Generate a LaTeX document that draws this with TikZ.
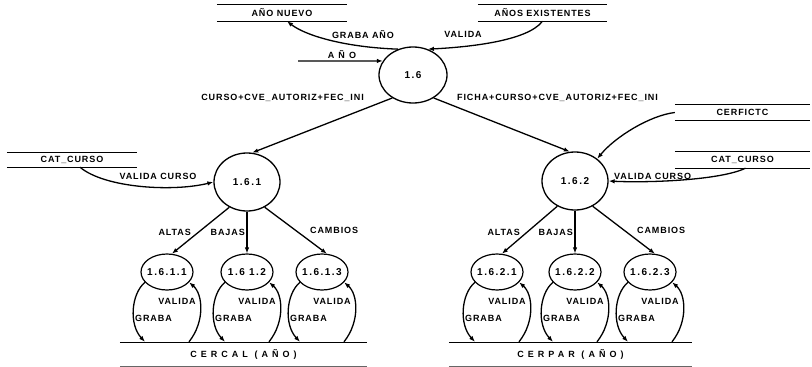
\documentclass[tikz,border=0pt]{standalone}
\usepackage{fontspec}
\setmainfont{Liberation Sans}
\newfontfamily\lblfont{Liberation Sans}[LetterSpace=10]
\newfontfamily\numfont{Liberation Sans}[LetterSpace=15]
\newfontfamily\widefont{Liberation Sans}[LetterSpace=45]
\usetikzlibrary{arrows.meta,calc,shapes.geometric}

\begin{document}
\begin{tikzpicture}[x=1pt,y=-1pt,
  lbl/.style={font=\lblfont\bfseries\fontsize{9}{10}\selectfont, inner sep=0pt},
  widelbl/.style={font=\widefont\bfseries\fontsize{9}{10}\selectfont, inner sep=0pt},
  numlbl/.style={font=\numfont\bfseries\fontsize{10}{11}\selectfont, inner sep=0pt},
  proc/.style={draw, ellipse, line width=1.3pt, inner sep=0pt,
    minimum width=66pt, minimum height=58pt},
  subproc/.style={draw, ellipse, line width=1.2pt, inner sep=0pt,
    minimum width=52pt, minimum height=36pt},
  store/.style={lbl, minimum height=15pt},
  bigstore/.style={widelbl, minimum height=23pt},
  storeline/.style={line width=1.2pt},
  flow/.style={line width=1.3pt, -{Latex[length=6pt,width=4.5pt]}},
]
\useasboundingbox (0,0) rectangle (812,367);

% processes
\node[proc, minimum width=68pt, minimum height=56pt] (p16) at (413,75) {};
\node[numlbl] (t16) at (p16.center) {1.6};
\node[proc] (p161) at (247,182) {};
\node[numlbl] (t161) at (p161.center) {1.6.1};
\node[proc] (p162) at (575,181) {};
\node[numlbl] (t162) at (p162.center) {1.6.2};

\foreach \n/\x/\t in {p1611/167/1.6.1.1, p1612/247/1.6 1.2, p1613/322/1.6.1.3,
                      p1621/497/1.6.2.1, p1622/575/1.6.2.2, p1623/650/1.6.2.3}
  \node[subproc, label={[numlbl,name=t\n]center:\t}] (\n) at (\x,272) {};

% data stores
\node[store, minimum width=130pt, minimum height=16pt] (nuevo) at (282,13) {AÑO NUEVO};
\node[store, minimum width=129pt, minimum height=16pt] (exist) at (542.5,13) {AÑOS EXISTENTES};
\node[store, minimum width=130pt, minimum height=14pt] (catL) at (72,160) {CAT\_CURSO};
\node[store, minimum width=135pt, minimum height=15pt] (cerf) at (742.5,112.5) {CERFICTC};
\node[store, minimum width=135pt, minimum height=16pt] (catR) at (742.5,160) {CAT\_CURSO};
\node[bigstore, minimum width=247pt] (cercal) at (243.5,354.5) {CERCAL (AÑO)};
\node[bigstore, minimum width=243pt] (cerpar) at (570.5,354.5) {CERPAR (AÑO)};

\foreach \s in {nuevo,exist,catL,cerf,catR}
  \draw[storeline] (\s.north west) -- (\s.north east)
                   (\s.south west) -- (\s.south east);
\foreach \s in {cercal,cerpar} {
  \draw[storeline] (\s.north west) -- (\s.north east);
  \draw[line width=0.7pt, black!60] (\s.south west) -- (\s.south east);
}

% flows around 1.6
\coordinate (ain) at (298,61);
\draw[flow] (p16.120) .. controls +(-55,-2) and +(18,14) .. ($(nuevo.south)+(5,0)$);
\draw[flow] (exist.south) .. controls +(-15,20) and +(40,-2) .. (p16.60);
\draw[flow] (ain) -- (p16.155);
\draw[flow] (p16.228) -- (p161.80);
\draw[flow] (p16.312) -- (p162.100);

\node[lbl] (lgraba) at (363,35) {GRABA AÑO};
\node[lbl] (lvalida) at (463,34) {VALIDA};
\node[widelbl] (lano) at (342,55) {AÑO};
\node[lbl, anchor=east] (lcurso) at (364,98) {CURSO+CVE\_AUTORIZ+FEC\_INI};
\node[lbl, anchor=west] (lficha) at (457,98) {FICHA+CURSO+CVE\_AUTORIZ+FEC\_INI};

% flows into 1.6.1 and 1.6.2
\draw[flow] ($(catL.south)+(8,0)$) .. controls +(25,21) and +(-40,10) .. (p161.180);
\draw[flow] (cerf.west) .. controls +(-25,3) and +(18,-22) .. (p162.45);
\draw[flow] ($(catR.south)+(3,0)$) .. controls +(-25,12) and +(40,2) .. (p162.east);
\node[lbl] (lvcL) at (158,176) {VALIDA CURSO};
\node[lbl, anchor=west] (lvcR) at (614,176) {VALIDA CURSO};

% second level
\draw[flow] (p161.235) -- (p1611.75);
\draw[flow] (p161.south) -- (p1612.north);
\draw[flow] (p161.305) -- (p1613.75);
\draw[flow] (p162.235) -- (p1621.75);
\draw[flow] (p162.south) -- (p1622.north);
\draw[flow] (p162.305) -- (p1623.75);

\node[lbl, anchor=east] (la1) at (191,232) {ALTAS};
\node[lbl, anchor=east] (lb1) at (245,232) {BAJAS};
\node[lbl, anchor=west] (lc1) at (310,230) {CAMBIOS};
\node[lbl, anchor=east] (la2) at (520,232) {ALTAS};
\node[lbl, anchor=east] (lb2) at (573,232) {BAJAS};
\node[lbl, anchor=west] (lc2) at (637,230) {CAMBIOS};

% write / validate loops against the stores
\foreach \n/\st in {p1611/cercal, p1612/cercal, p1613/cercal,
                    p1621/cerpar, p1622/cerpar, p1623/cerpar} {
  \draw[flow] (\n.205) .. controls +(-14,12) and +(-16,-17)
    .. ($(\n.center |- \st.north)+(-22,-1)$);
  \draw[flow] ($(\n.center |- \st.north)+(22,-1)$) .. controls +(16,-20) and +(14,12)
    .. (\n.335);
  \node[lbl, anchor=west] (g\n) at ($(\n.center)+(-32,46)$) {GRABA};
  \node[lbl] (v\n) at ($(\n.center)+(10,29)$) {VALIDA};
}
\end{tikzpicture}
\end{document}
